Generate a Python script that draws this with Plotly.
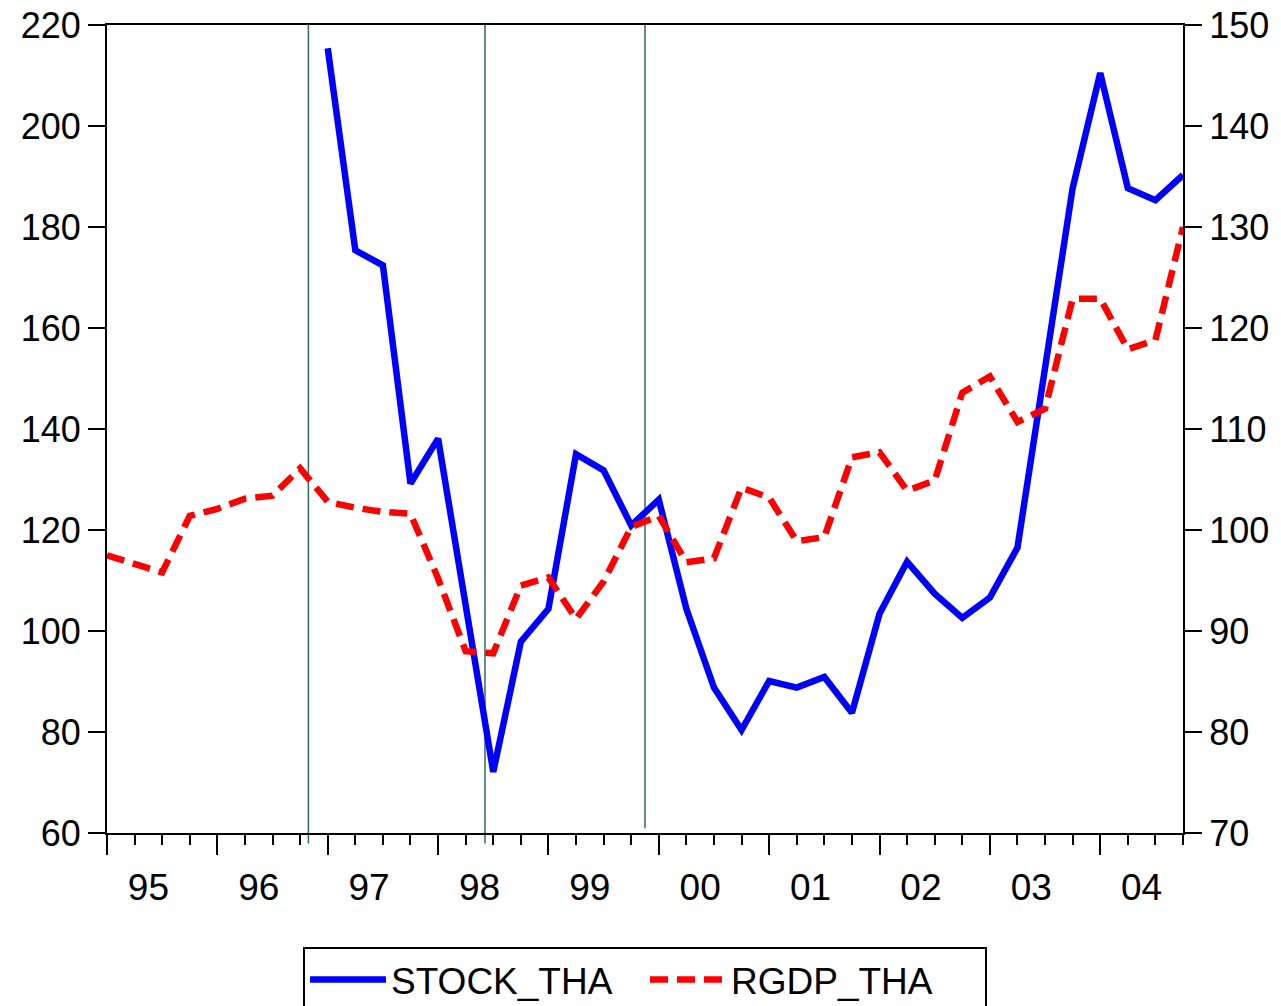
import plotly.graph_objects as go

# Quarterly observations 1995Q1 .. 2004Q4 (index 0..39)
quarter_index = list(range(40))
year_labels = ["95", "96", "97", "98", "99", "00", "01", "02", "03", "04"]

# Thai stock index (left axis), available from 1997Q1
stock_tha = [None] * 8 + [
    215.4, 175.4, 172.4, 129.2, 138.1, 105.0, 72.1, 97.9,
    104.4, 135.0, 131.8, 120.9, 126.0, 104.4, 88.8, 80.4,
    90.1, 88.8, 90.9, 83.8, 103.4, 113.7, 107.4, 102.6,
    106.6, 116.5, 152.2, 187.7, 210.5, 187.7, 185.3, 190.3,
]

# Thai real GDP (right axis)
rgdp_tha = [
    97.5, 96.7, 95.8, 101.4, 102.1, 103.1, 103.4, 106.1,
    102.8, 102.2, 101.8, 101.6, 95.2, 88.0, 87.8, 94.5,
    95.3, 91.2, 94.9, 100.3, 101.4, 96.8, 97.2, 104.2,
    103.2, 98.9, 99.3, 107.2, 107.7, 103.9, 104.9, 113.6,
    115.2, 110.7, 112.0, 122.9, 122.9, 117.9, 118.8, 130.0,
]

# Event markers (position on the quarter index)
event_positions = [7.3, 13.7, 19.5]
event_bottoms = [-0.013, -0.013, 0.006]

FONT = "Liberation Sans, Arial, sans-serif"

fig = go.Figure()
fig.add_trace(go.Scatter(
    x=quarter_index, y=stock_tha, name="STOCK_THA", mode="lines",
    line=dict(color="#0000FF", width=6.5), yaxis="y", xaxis="x",
))
fig.add_trace(go.Scatter(
    x=quarter_index, y=rgdp_tha, name="RGDP_THA", mode="lines",
    line=dict(color="#FF0000", width=6.5, dash="18px,9px"), yaxis="y2", xaxis="x",
))

for pos, bottom in zip(event_positions, event_bottoms):
    fig.add_shape(type="line", xref="x", yref="paper", x0=pos, x1=pos,
                  y0=bottom, y1=1, line=dict(color="#336666", width=1.5),
                  layer="below")

fig.update_layout(
    width=1281, height=1006,
    margin=dict(l=107, r=98, t=25, b=173, autoexpand=False),
    paper_bgcolor="white", plot_bgcolor="white",
    font=dict(family=FONT, size=36, color="black"),
    showlegend=True,
    legend=dict(
        orientation="h", x=0.5, xanchor="center", y=-0.141, yanchor="top",
        bordercolor="black", borderwidth=2, font=dict(size=37, family=FONT),
        itemwidth=76, entrywidth=249, entrywidthmode="pixels", bgcolor="white",
    ),
    xaxis=dict(
        range=[0, 39], showgrid=False, zeroline=False,
        showline=True, linecolor="black", linewidth=2, mirror=True,
        tickmode="array", tickvals=list(range(0, 40, 4)),
        ticks="outside", ticklen=20, tickwidth=2, tickcolor="black",
        showticklabels=False,
        minor=dict(tickvals=[i for i in range(1, 40) if i % 4 != 0],
                   ticks="outside", ticklen=10, tickwidth=2, tickcolor="black"),
    ),
    xaxis2=dict(
        range=[0, 39], overlaying="x", anchor="y", side="bottom",
        showgrid=False, zeroline=False, showline=False,
        tickmode="array", tickvals=[1.5 + 4 * k for k in range(10)],
        ticktext=year_labels, ticks="outside", ticklen=22,
        tickcolor="rgba(0,0,0,0)", tickfont=dict(size=37, family=FONT),
    ),
    yaxis=dict(
        range=[60, 220], dtick=20, tick0=60, showgrid=False, zeroline=False,
        showline=True, linecolor="black", linewidth=2,
        ticks="outside", ticklen=17, tickwidth=2, tickcolor="black",
        tickfont=dict(size=36, family=FONT),
    ),
    yaxis2=dict(
        range=[70, 150], dtick=10, tick0=70, overlaying="y", side="right",
        showgrid=False, zeroline=False,
        showline=True, linecolor="black", linewidth=2,
        ticks="outside", ticklen=17, tickwidth=2, tickcolor="black",
        tickfont=dict(size=36, family=FONT),
    ),
)

# invisible trace so the label axis is rendered
fig.add_trace(go.Scatter(x=[0], y=[None], xaxis="x2", yaxis="y",
                         showlegend=False, hoverinfo="skip"))

fig.write_html("out.html")
